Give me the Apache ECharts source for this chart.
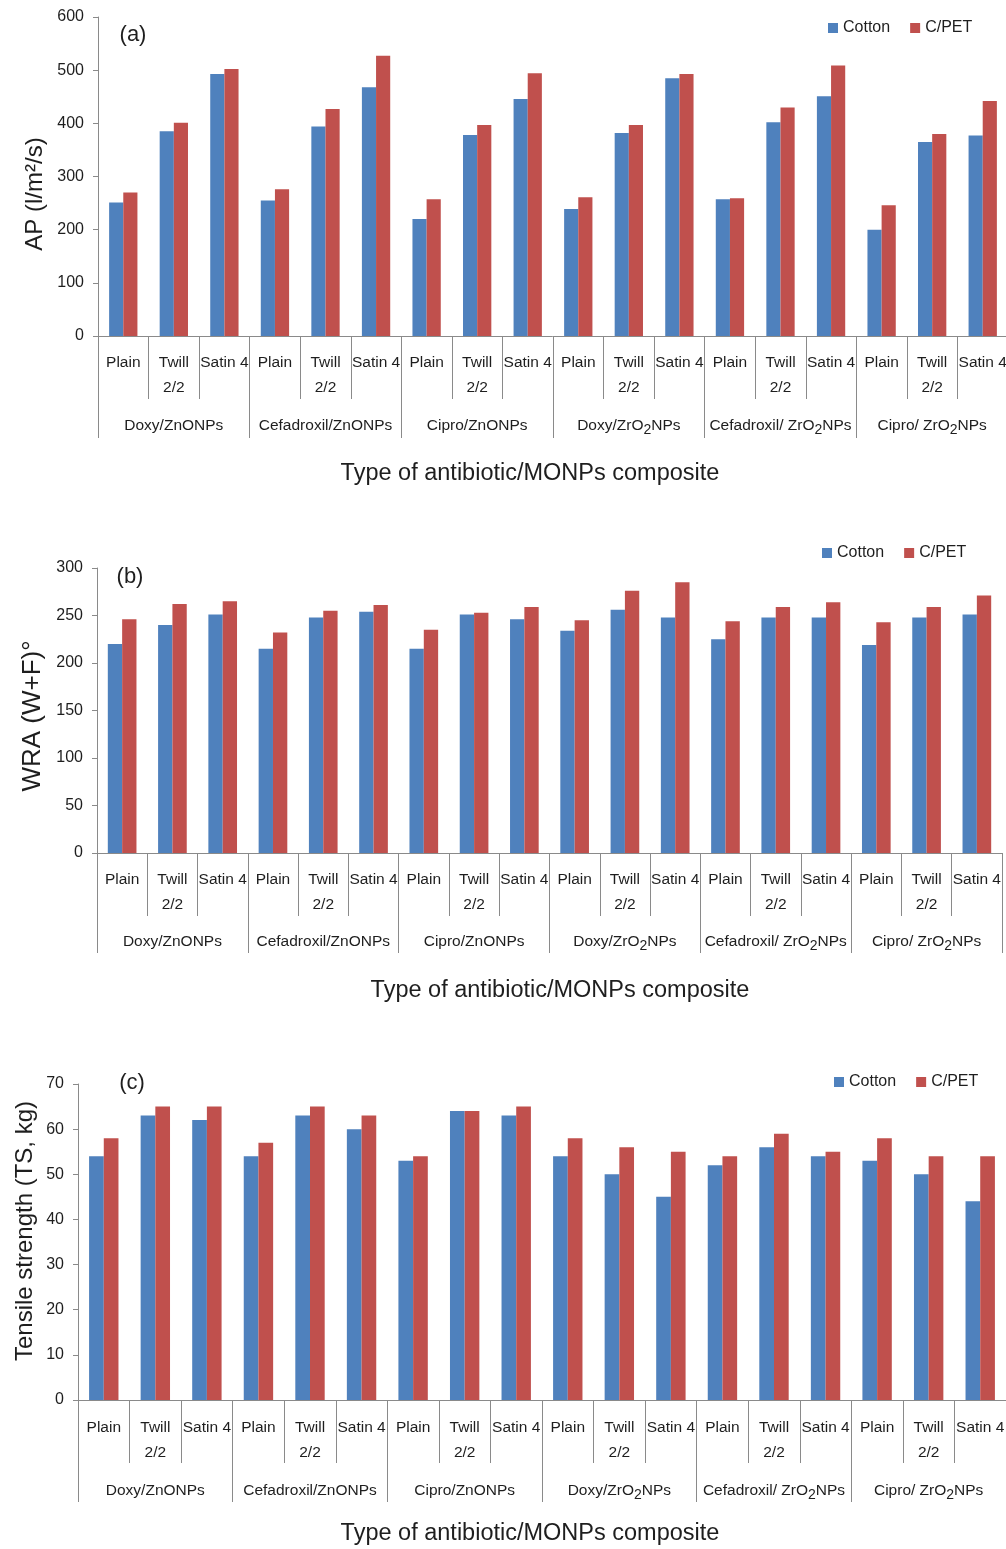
<!DOCTYPE html>
<html>
<head>
<meta charset="utf-8">
<title>AP, WRA and tensile strength of antibiotic/MONPs treated fabrics</title>
<script src="https://cdn.jsdelivr.net/npm/echarts@6/dist/echarts.min.js"></script>
<style>
  html, body { margin: 0; padding: 0; background: #ffffff; }
  #chart { width: 1006px; height: 1549px; }
</style>
</head>
<body>
<div id="chart"></div>
<script>
// Fabric weaves (inner axis level) and composite treatments (outer axis level)
const weaves = ['Plain', 'Twill\n2/2', 'Satin 4'];
const composites = ['Doxy/ZnONPs', 'Cefadroxil/ZnONPs', 'Cipro/ZnONPs',
                    'Doxy/ZrO2NPs', 'Cefadroxil/ ZrO2NPs', 'Cipro/ ZrO2NPs'];
const seriesNames = ['Cotton', 'C/PET'];

// (a) Air permeability, l/m²/s
const apCotton = [251, 385, 493, 255, 394, 468, 220, 378, 446, 239, 382, 485, 257, 402, 451, 200, 365, 377];
const apCPET   = [270, 401, 502, 276, 427, 527, 257, 397, 494, 261, 397, 493, 259, 430, 509, 246, 380, 442];

// (b) Wrinkle recovery angle (W+F), degrees
const wraCotton = [220, 240, 251, 215, 248, 254, 215, 251, 246, 234, 256, 248, 225, 248, 248, 219, 248, 251];
const wraCPET   = [246, 262, 265, 232, 255, 261, 235, 253, 259, 245, 276, 285, 244, 259, 264, 243, 259, 271];

// (c) Tensile strength, kg
const tsCotton = [54, 63, 62, 54, 63, 60, 53, 64, 63, 54, 50, 45, 52, 56, 54, 53, 50, 44];
const tsCPET   = [58, 65, 65, 57, 65, 63, 54, 64, 65, 58, 56, 55, 54, 59, 55, 58, 54, 54];

// Value axis ranges
const apAxis  = { max: 600, interval: 100 };
const wraAxis = { max: 300, interval: 50 };
const tsAxis  = { max: 70,  interval: 10 };

const blue = '#4F81BD';
const red = '#C0504D';
const axisGrey = '#8a8a8a';
const textColor = '#1e1e1e';
const sans = "'Liberation Sans', Arial, sans-serif";

// One category per weave within each composite
const weaveCats = [];
composites.forEach(() => weaves.forEach(w => weaveCats.push(w)));

function compositeLabel(s) {
  const parts = s.split('ZrO2');
  if (parts.length === 1) return '{t|' + s + '}';
  return '{t|' + parts[0] + 'ZrO}{s|2}{t|' + parts[1] + '}';
}

const panels = [
  { grid: { left: 98, top: 17, width: 910, height: 319 }, axis: apAxis,
    cotton: apCotton, cpet: apCPET, gap: '44%',
    innerMargin: 14, outerMargin: 79, innerTick: 63, outerTick: 102,
    legend: { left: 828, top: 19 } },
  { grid: { left: 97, top: 568, width: 905, height: 285 }, axis: wraAxis,
    cotton: wraCotton, cpet: wraCPET, gap: '43%',
    innerMargin: 14, outerMargin: 78, innerTick: 63, outerTick: 100,
    legend: { left: 822, top: 544 } },
  { grid: { left: 78, top: 1084, width: 928, height: 316 }, axis: tsAxis,
    cotton: tsCotton, cpet: tsCPET, gap: '43%',
    innerMargin: 15, outerMargin: 80, innerTick: 63, outerTick: 102,
    legend: { left: 834, top: 1073 } }
];

const grids = [], xAxes = [], yAxes = [], series = [], legends = [];

panels.forEach((p, i) => {
  grids.push(Object.assign({ containLabel: false, outerBoundsMode: 'none' }, p.grid));

  // inner level: weaves
  xAxes.push({
    type: 'category', gridIndex: i, position: 'bottom', data: weaveCats,
    axisLine: { show: true, onZero: false, lineStyle: { color: axisGrey, width: 1 } },
    axisTick: { show: true, length: p.innerTick, lineStyle: { color: axisGrey } },
    axisLabel: { interval: 0, margin: p.innerMargin, color: textColor,
                 fontFamily: sans, fontSize: 15.5, lineHeight: 25 },
    splitLine: { show: false }
  });
  // outer level: composites
  xAxes.push({
    type: 'category', gridIndex: i, position: 'bottom', data: composites,
    axisLine: { show: false, onZero: false },
    axisTick: { show: true, length: p.outerTick, lineStyle: { color: axisGrey } },
    axisLabel: {
      interval: 0, margin: p.outerMargin, formatter: compositeLabel,
      rich: {
        t: { fontFamily: sans, fontSize: 15.5, lineHeight: 22, color: textColor },
        s: { fontFamily: sans, fontSize: 14, lineHeight: 14, padding: [8, 0, 0, 0], color: textColor }
      }
    },
    splitLine: { show: false }
  });

  yAxes.push({
    type: 'value', gridIndex: i, min: 0, max: p.axis.max, interval: p.axis.interval,
    axisLine: { show: true, lineStyle: { color: axisGrey, width: 1 } },
    axisTick: { show: true, length: 5, lineStyle: { color: axisGrey } },
    axisLabel: { margin: 14, color: textColor, fontFamily: sans, fontSize: 16 },
    splitLine: { show: false }
  });

  series.push({
    name: seriesNames[0], type: 'bar', xAxisIndex: 2 * i, yAxisIndex: i,
    data: p.cotton, barGap: '0%', barCategoryGap: p.gap,
    itemStyle: { color: blue }
  });
  series.push({
    name: seriesNames[1], type: 'bar', xAxisIndex: 2 * i, yAxisIndex: i,
    data: p.cpet, barGap: '0%', barCategoryGap: p.gap,
    itemStyle: { color: red }
  });

  legends.push({
    data: seriesNames, left: p.legend.left, top: p.legend.top, orient: 'horizontal',
    padding: 0, itemGap: 20, itemWidth: 10, itemHeight: 10, icon: 'rect',
    textStyle: { fontFamily: sans, fontSize: 16, lineHeight: 18, color: textColor }
  });
});

function label(text, x, y, size, rotate) {
  return {
    type: 'text', x: x, y: y, rotation: rotate ? Math.PI / 2 : 0,
    style: { text: text, fontFamily: sans, fontSize: size, fill: textColor,
             align: 'center', verticalAlign: 'middle' }
  };
}

const graphics = [
  label('(a)', 133, 35, 22),
  label('(b)', 130, 577, 22),
  label('(c)', 132, 1083, 22),
  label('AP (l/m²/s)', 35, 194, 24, true),
  label('WRA (W+F)°', 33, 716, 26, true),
  label('Tensile strength (TS, kg)', 25, 1231, 24, true),
  label('Type of antibiotic/MONPs composite', 530, 474, 23.5),
  label('Type of antibiotic/MONPs composite', 560, 991, 23.5),
  label('Type of antibiotic/MONPs composite', 530, 1534, 23.5)
];

const chart = echarts.init(document.getElementById('chart'), null, { renderer: 'canvas' });
chart.setOption({
  animation: false,
  backgroundColor: '#ffffff',
  grid: grids,
  xAxis: xAxes,
  yAxis: yAxes,
  legend: legends,
  series: series,
  graphic: graphics
});
</script>
</body>
</html>
